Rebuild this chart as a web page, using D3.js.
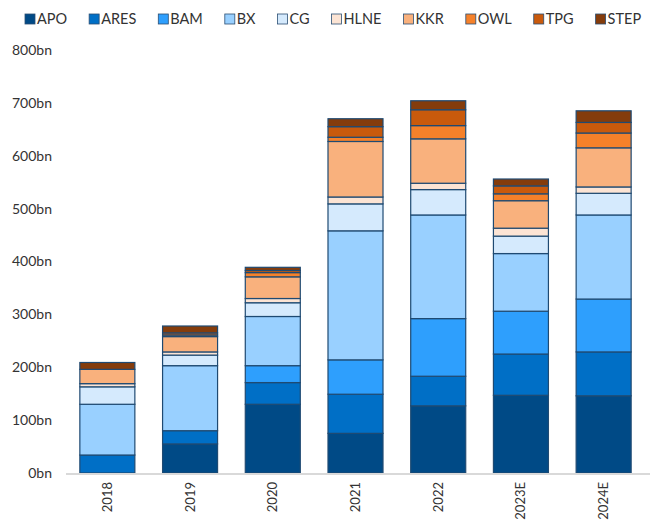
<!DOCTYPE html>
<html>
<head>
<meta charset="utf-8">
<script src="https://cdn.jsdelivr.net/npm/d3@7"></script>
<style>
  body { margin: 0; background: #fff; }
  text { font-family: Lato, "Open Sans", sans-serif; fill: #333; }
</style>
</head>
<body>
<svg id="chart"></svg>
<script>
const years = ["2018", "2019", "2020", "2021", "2022", "2023E", "2024E"];
const APO  = [0, 55, 130, 75, 127, 147, 146];
const ARES = [34, 25, 41, 74, 56, 78, 83];
const BAM  = [0, 0, 32, 65, 109, 81, 100];
const BX   = [96, 123, 93, 244, 196, 109, 159];
const CG   = [33, 20, 26, 51, 48, 33, 41];
const HLNE = [6, 6, 8, 13, 12, 15, 12];
const KKR  = [27, 29, 41, 105, 84, 52, 74];
const OWL  = [0, 3, 8, 8, 25, 13, 28];
const TPG  = [0, 4, 4, 20, 30, 15, 20];
const STEP = [13, 13, 6, 15, 17, 13, 22];
const seriesNames = ["APO", "ARES", "BAM", "BX", "CG", "HLNE", "KKR", "OWL", "TPG", "STEP"];
const seriesValues = [APO, ARES, BAM, BX, CG, HLNE, KKR, OWL, TPG, STEP];
const yTicks = [0, 100, 200, 300, 400, 500, 600, 700, 800];

const colors = ["#004a86", "#006fc6", "#2e9ffd", "#99d0ff", "#d5eafd",
                "#fce4d4", "#f9b17d", "#f5812a", "#c95a0c", "#843c0c"];

const width = 650, height = 520;
const margin = {top: 50, right: 5, bottom: 47, left: 66};

const svg = d3.select("#chart").attr("width", width).attr("height", height);

// build rows for d3.stack
const table = years.map((y, i) => {
  const row = {year: y};
  seriesNames.forEach((s, j) => { row[s] = seriesValues[j][i]; });
  return row;
});
const stacked = d3.stack().keys(seriesNames)(table);

const xScale = d3.scaleBand()
  .domain(years)
  .range([margin.left, width - margin.right])
  .paddingInner(0.335)
  .paddingOuter(0.1675);

const yScale = d3.scaleLinear()
  .domain([0, 800])
  .range([height - margin.bottom, margin.top]);

// y axis labels (no line, no grid)
const yAxisG = svg.append("g")
  .attr("transform", `translate(${margin.left}, 0)`)
  .call(d3.axisLeft(yScale).tickValues(yTicks).tickSize(0).tickPadding(14)
    .tickFormat(d => d + "bn"));
yAxisG.select(".domain").remove();
yAxisG.selectAll("text").style("font-size", "14px").style("fill", "#333");

// bars
const layers = svg.append("g").selectAll("g")
  .data(stacked).enter()
  .append("g")
  .attr("fill", (d, i) => colors[i]);

layers.selectAll("rect")
  .data(d => d.filter(p => p[1] - p[0] > 0))
  .enter().append("rect")
  .attr("x", d => xScale(d.data.year))
  .attr("width", xScale.bandwidth())
  .attr("y", d => yScale(d[1]))
  .attr("height", d => yScale(d[0]) - yScale(d[1]))
  .attr("stroke", "#1f4a72")
  .attr("stroke-width", 1.2);

// baseline
svg.append("line")
  .attr("x1", margin.left).attr("x2", width)
  .attr("y1", yScale(0) + 1).attr("y2", yScale(0) + 1)
  .attr("stroke", "#d9d9d9").attr("stroke-width", 2);

// x axis labels, rotated
const xAxisG = svg.append("g")
  .attr("transform", `translate(0, ${yScale(0)})`)
  .call(d3.axisBottom(xScale).tickSize(0).tickPadding(0));
xAxisG.select(".domain").remove();
xAxisG.selectAll("text")
  .style("font-size", "13px")
  .style("fill", "#333")
  .attr("text-anchor", "end")
  .attr("dy", "0.35em")
  .attr("transform", "translate(0, 9) rotate(-90)")
  .attr("x", 0).attr("y", 0);

// legend
const legend = svg.append("g").attr("transform", "translate(25, 19)");
let lx = 0;
seriesNames.forEach((name, i) => {
  const item = legend.append("g").attr("transform", `translate(${lx}, 0)`);
  item.append("rect")
    .attr("x", 0).attr("y", -5)
    .attr("width", 10).attr("height", 10)
    .attr("fill", colors[i])
    .attr("stroke", "#2b4f73").attr("stroke-width", 0.8);
  const t = item.append("text")
    .attr("x", 12).attr("y", 0).attr("dy", "0.36em")
    .style("font-size", "14.5px")
    .text(name);
  lx += 12 + t.node().getComputedTextLength() + 22;
});
</script>
</body>
</html>
